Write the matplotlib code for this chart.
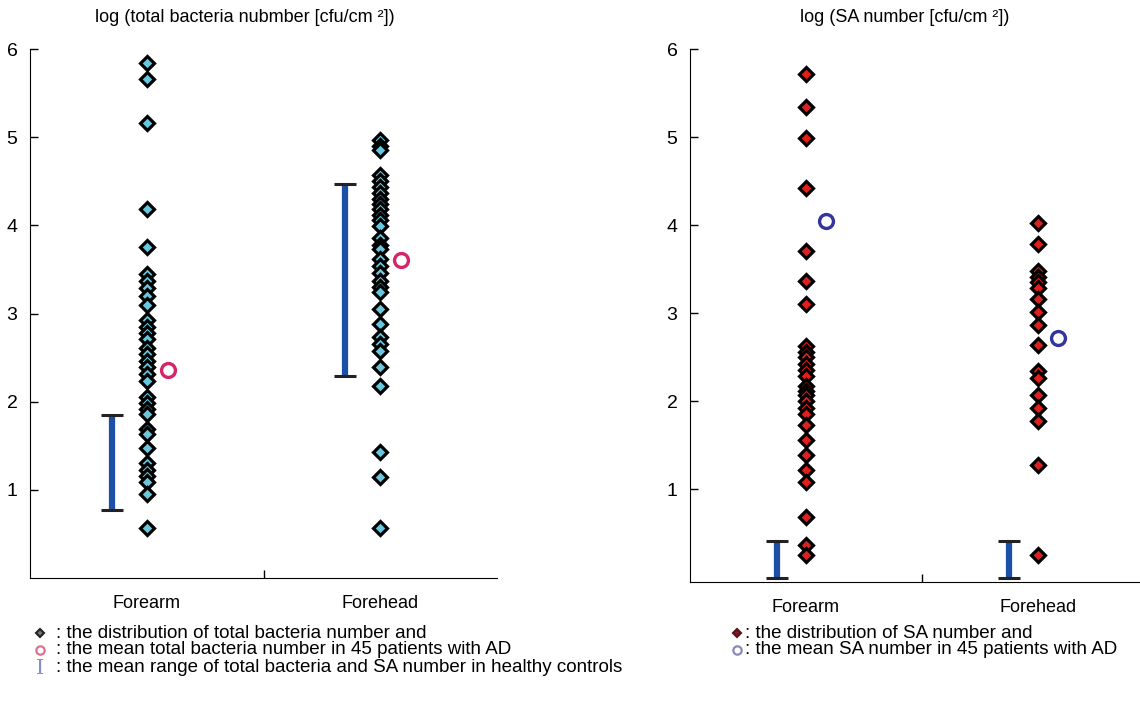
import matplotlib
matplotlib.use("Agg")
import matplotlib.pyplot as plt
from matplotlib.lines import Line2D

plt.rcParams['font.family'] = ['Liberation Sans', 'DejaVu Sans']
plt.rcParams['font.size'] = 12

categories = ["Forearm", "Forehead"]

# log total bacteria, one value per patient
total_forearm = [5.84, 5.66, 5.16, 4.19, 3.75, 3.45, 3.37, 3.29, 3.20, 3.10, 2.93, 2.85,
                 2.78, 2.71, 2.61, 2.54, 2.46, 2.39, 2.31, 2.24, 2.05, 1.98, 1.92, 1.86,
                 1.69, 1.63, 1.48, 1.31, 1.23, 1.16, 1.09, 0.95, 0.57]
total_forehead = [4.97, 4.90, 4.85, 4.57, 4.50, 4.44, 4.37, 4.30, 4.24, 4.18, 4.12, 4.06,
                  3.99, 3.86, 3.78, 3.73, 3.62, 3.54, 3.46, 3.37, 3.30, 3.24, 3.05, 2.88,
                  2.73, 2.65, 2.57, 2.39, 2.18, 1.43, 1.14, 0.57]
total_means = [2.36, 3.61]
total_healthy_low = [0.77, 2.29]
total_healthy_high = [1.85, 4.47]

# log SA number
sa_forearm = [5.72, 5.34, 4.99, 4.42, 3.71, 3.37, 3.10, 2.63, 2.56, 2.50, 2.43, 2.36,
              2.29, 2.18, 2.12, 2.07, 2.00, 1.93, 1.86, 1.73, 1.56, 1.39, 1.22, 1.09,
              0.69, 0.37, 0.26]
sa_forehead = [4.02, 3.79, 3.48, 3.41, 3.35, 3.29, 3.16, 3.01, 2.87, 2.64, 2.35, 2.27,
               2.07, 1.92, 1.78, 1.28, 0.26]
sa_means = [4.05, 2.72]
sa_healthy_low = [0.0, 0.0]
sa_healthy_high = [0.41, 0.41]

yticks = [1, 2, 3, 4, 5, 6]

BAR_BLUE = "#1c4fa6"


def draw_panel(ax, points, means, lows, highs, fill, mean_color, offsets, ylim, xmax):
    pt_off, bar_off, mean_off = offsets
    for i, vals in enumerate(points):
        ax.plot([i + pt_off] * len(vals), vals, linestyle="none", marker="D",
                markersize=7, markerfacecolor=fill, markeredgecolor="black",
                markeredgewidth=2.3, zorder=3)
        ax.plot([i + mean_off], [means[i]], linestyle="none", marker="o",
                markersize=10, markerfacecolor="none", markeredgecolor=mean_color,
                markeredgewidth=2.4, zorder=3)
        ax.plot([i + bar_off, i + bar_off], [lows[i], highs[i]], color=BAR_BLUE,
                linewidth=4.5, solid_capstyle="butt", zorder=2, clip_on=False)
        for y in (lows[i], highs[i]):
            ax.plot([i + bar_off - 0.048, i + bar_off + 0.048], [y, y], color="#222222",
                    linewidth=2.2, solid_capstyle="butt", zorder=2, clip_on=False)
    ax.set_xlim(0, xmax)
    ax.set_ylim(*ylim)
    ax.set_yticks(yticks)
    ax.set_xticks([1])
    ax.set_xticklabels([""])
    ax.tick_params(direction="in", length=6, width=1, labelsize=14, pad=9)
    for i, c in enumerate(categories):
        ax.annotate(c, (i + 0.5, 0), xycoords=ax.get_xaxis_transform(),
                    xytext=(0, -12), textcoords="offset points",
                    ha="center", va="top", fontsize=13)
    ax.spines["top"].set_visible(False)
    ax.spines["right"].set_visible(False)


fig = plt.figure(figsize=(11.4, 7.01), dpi=100)

ax1 = fig.add_axes([30 / 1140, 123 / 701, 467 / 1140, 529 / 701])
draw_panel(ax1, [total_forearm, total_forehead], total_means, total_healthy_low,
           total_healthy_high, "#6ac6dc", "#d6246a", (0.5, 0.35, 0.59), (0, 6), 2.0)

ax2 = fig.add_axes([690 / 1140, 119 / 701, 450 / 1140, 533 / 701])
draw_panel(ax2, [sa_forearm, sa_forehead], sa_means, sa_healthy_low,
           sa_healthy_high, "#e0201c", "#3434a0", (0.5, 0.375, 0.585), (-0.05, 6), 1.94)

fig.text(245 / 1140, 1 - 18 / 701, "log (total bacteria nubmber [cfu/cm ²])",
         ha="center", va="center", fontsize=13)
fig.text(905 / 1140, 1 - 18 / 701, "log (SA number [cfu/cm ²])",
         ha="center", va="center", fontsize=13)

# hand-made legend under each panel
def legend_marker(x, y, **kw):
    fig.add_artist(Line2D([x / 1140], [1 - y / 701], transform=fig.transFigure,
                          linestyle="none", **kw))


legend_marker(40, 633, marker="D", markersize=4.5, markerfacecolor="#777777",
              markeredgecolor="#222222", markeredgewidth=1.5)
legend_marker(40, 650, marker="o", markersize=6, markerfacecolor="none",
              markeredgecolor="#e0708f", markeredgewidth=1.6)
fig.text(40 / 1140, 1 - 668 / 701, "I", ha="center", va="center", fontsize=15,
         color="#7f8fd0", family="DejaVu Serif")
fig.text(56 / 1140, 1 - 633 / 701, ": the distribution of total bacteria number and",
         va="center", fontsize=13.5)
fig.text(56 / 1140, 1 - 650 / 701, ": the mean total bacteria number in 45 patients with AD",
         va="center", fontsize=13.5)
fig.text(56 / 1140, 1 - 668 / 701,
         ": the mean range of total bacteria and SA number in healthy controls",
         va="center", fontsize=13.5)

legend_marker(737, 633, marker="D", markersize=4.5, markerfacecolor="#7a1e2a",
              markeredgecolor="#5a1018", markeredgewidth=1.5)
legend_marker(737, 650, marker="o", markersize=6, markerfacecolor="none",
              markeredgecolor="#8a8ab8", markeredgewidth=1.6)
fig.text(745 / 1140, 1 - 633 / 701, ": the distribution of SA number and",
         va="center", fontsize=13.5)
fig.text(745 / 1140, 1 - 650 / 701, ": the mean SA number in 45 patients with AD",
         va="center", fontsize=13.5)

fig.savefig("out.png", dpi=100)
